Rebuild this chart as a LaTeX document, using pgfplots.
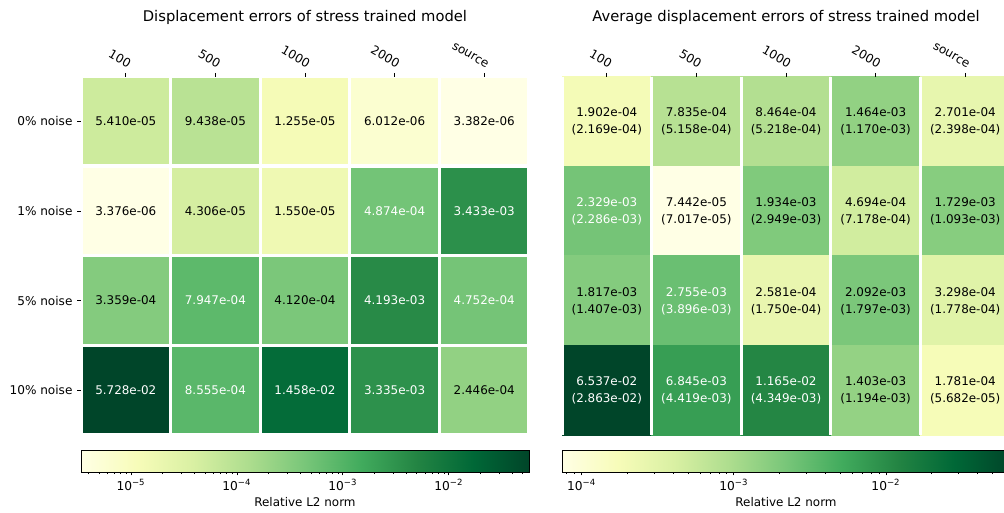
\documentclass[border=0pt]{standalone}
\usepackage{pgfplots}
\usepackage{pgfplotstable}
\pgfplotsset{compat=1.18}
\usepackage{fontspec}
\setmainfont{DejaVu Sans}

\pgfplotstableread{
x y v w
0 0 5.410e-05 0
1 0 9.438e-05 0
2 0 1.255e-05 0
3 0 6.012e-06 0
4 0 3.382e-06 0
0 1 3.376e-06 0
1 1 4.306e-05 0
2 1 1.550e-05 0
3 1 4.874e-04 1
4 1 3.433e-03 1
0 2 3.359e-04 0
1 2 7.947e-04 1
2 2 4.120e-04 0
3 2 4.193e-03 1
4 2 4.752e-04 1
0 3 5.728e-02 1
1 3 8.555e-04 1
2 3 1.458e-02 1
3 3 3.335e-03 1
4 3 2.446e-04 0
}\leftdata

\pgfplotstableread{
x y v p w
0 0 1.902e-04 2.169e-04 0
1 0 7.835e-04 5.158e-04 0
2 0 8.464e-04 5.218e-04 0
3 0 1.464e-03 1.170e-03 0
4 0 2.701e-04 2.398e-04 0
0 1 2.329e-03 2.286e-03 1
1 1 7.442e-05 7.017e-05 0
2 1 1.934e-03 2.949e-03 0
3 1 4.694e-04 7.178e-04 0
4 1 1.729e-03 1.093e-03 0
0 2 1.817e-03 1.407e-03 0
1 2 2.755e-03 3.896e-03 1
2 2 2.581e-04 1.750e-04 0
3 2 2.092e-03 1.797e-03 0
4 2 3.298e-04 1.778e-04 0
0 3 6.537e-02 2.863e-02 1
1 3 6.845e-03 4.419e-03 1
2 3 1.165e-02 4.349e-03 1
3 3 1.403e-03 1.194e-03 0
4 3 1.781e-04 5.682e-05 0
}\rightdata

\pgfplotsset{
  colormap={ylgn}{rgb255=(255,255,229) rgb255=(247,252,185) rgb255=(217,240,163) rgb255=(173,221,142) rgb255=(120,198,121) rgb255=(65,171,93) rgb255=(35,132,67) rgb255=(0,104,55) rgb255=(0,69,41)},
  myheat/.style={
    scale only axis, width=322.56pt, height=258.12pt, anchor=south west,
    xmin=-0.5, xmax=4.5, ymin=-0.5, ymax=3.5, y dir=reverse,
    xtick={0,1,2,3,4}, xticklabels={100,500,1000,2000,source},
    xtick pos=right, xticklabel pos=right,
    xticklabel style={rotate=-30, anchor=south east, xshift=3pt, font=\fontsize{8.7}{10}\selectfont},
    yticklabel style={font=\fontsize{8.7}{10}\selectfont},
    tick align=outside, major tick length=2.6pt,
    every tick/.style={black, line width=0.6pt},
    axis line style={draw=none},
    minor xtick={-0.5,0.5,1.5,2.5,3.5,4.5}, minor ytick={-0.5,0.5,1.5,2.5,3.5},
    minor tick length=0pt, xminorgrids, yminorgrids,
    minor grid style={white, line width=2.4pt},
    axis on top,
    colormap name=ylgn,
    title style={at={(0.5,1)}, anchor=center, yshift=36.5pt, font=\fontsize{10.6}{12}\selectfont},
  },
  mycbar/.style={
    scale only axis, width=322.56pt, height=15.84pt, anchor=south west,
    ymin=0, ymax=1, ytick=\empty,
    xtick pos=left, tick align=outside,
    major tick length=2.5pt, minor tick length=1.5pt,
    every tick/.style={black, line width=0.5pt},
    axis line style={black, line width=0.6pt},
    axis on top,
    colormap name=ylgn,
    xticklabel style={font=\fontsize{8.8}{9}\selectfont, yshift=1pt},
    xlabel={Relative L2 norm},
    xlabel style={font=\fontsize{8.6}{9}\selectfont, yshift=2pt},
  },
  mylbl/.style={
    only marks, mark=none, point meta=explicit symbolic,
    nodes near coords align={center},
    every node near coord/.append style={text=#1, anchor=center,
      font=\fontsize{8.6}{10}\selectfont},
  },
}

\begin{document}
\begin{tikzpicture}
\path[use as bounding box] (0pt,0pt) rectangle (722.88pt,369.36pt);

% left heatmap
\begin{axis}[myheat, at={(58.32pt,56.16pt)},
  title={Displacement errors of stress trained model},
  ytick={0,1,2,3}, yticklabels={0\% noise,1\% noise,5\% noise,10\% noise},
  ytick pos=left,
  point meta min=-5.4716, point meta max=-1.2420]
\addplot[matrix plot*, mesh/cols=5, point meta={ln(\thisrow{v})/ln(10)}] table {\leftdata};
\addplot[mylbl=black, restrict expr to domain={\thisrow{w}}{0:0.5},
  nodes near coords={\pgfplotspointmeta}] table[x=x, y=y, meta=v] {\leftdata};
\addplot[mylbl=white, restrict expr to domain={\thisrow{w}}{0.5:1},
  nodes near coords={\pgfplotspointmeta}] table[x=x, y=y, meta=v] {\leftdata};
\end{axis}

% right heatmap
\begin{axis}[myheat, at={(404.64pt,56.16pt)},
  title={Average displacement errors of stress trained model},
  ytick=\empty,
  point meta min=-4.12831, point meta max=-1.18462]
\addplot[matrix plot*, mesh/cols=5, point meta={ln(\thisrow{v})/ln(10)}] table {\rightdata};
\addplot[mylbl=black, restrict expr to domain={\thisrow{w}}{0:0.5},
  every node near coord/.append style={yshift=6.3pt},
  nodes near coords={\pgfplotspointmeta}] table[x=x, y=y, meta=v] {\rightdata};
\addplot[mylbl=white, restrict expr to domain={\thisrow{w}}{0.5:1},
  every node near coord/.append style={yshift=6.3pt},
  nodes near coords={\pgfplotspointmeta}] table[x=x, y=y, meta=v] {\rightdata};
\addplot[mylbl=black, restrict expr to domain={\thisrow{w}}{0:0.5},
  every node near coord/.append style={yshift=-6.3pt},
  nodes near coords={(\pgfplotspointmeta)}] table[x=x, y=y, meta=p] {\rightdata};
\addplot[mylbl=white, restrict expr to domain={\thisrow{w}}{0.5:1},
  every node near coord/.append style={yshift=-6.3pt},
  nodes near coords={(\pgfplotspointmeta)}] table[x=x, y=y, meta=p] {\rightdata};
\end{axis}

% left colorbar
\begin{axis}[xmode=log, mycbar, at={(58.32pt,29.52pt)},
  xmin=3.376e-6, xmax=5.728e-2,
  point meta min=-5.4716, point meta max=-1.2420,
  xtick={1e-5,1e-4,1e-3,1e-2},
  xticklabels={10\textsuperscript{−5},10\textsuperscript{−4},10\textsuperscript{−3},10\textsuperscript{−2}},
  minor xtick={4e-6,5e-6,6e-6,7e-6,8e-6,9e-6,2e-5,3e-5,4e-5,5e-5,6e-5,7e-5,8e-5,9e-5,2e-4,3e-4,4e-4,5e-4,6e-4,7e-4,8e-4,9e-4,2e-3,3e-3,4e-3,5e-3,6e-3,7e-3,8e-3,9e-3,2e-2,3e-2,4e-2,5e-2}]
\addplot[surf, shader=interp, mesh/cols=2, point meta=explicit] coordinates {
  (3.376e-6,0) [-5.4716] (5.728e-2,0) [-1.2420]
  (3.376e-6,1) [-5.4716] (5.728e-2,1) [-1.2420]
};
\end{axis}

% right colorbar
\begin{axis}[xmode=log, mycbar, at={(404.64pt,29.52pt)},
  xmin=7.442e-5, xmax=6.537e-2,
  point meta min=-4.12831, point meta max=-1.18462,
  xtick={1e-4,1e-3,1e-2},
  xticklabels={10\textsuperscript{−4},10\textsuperscript{−3},10\textsuperscript{−2}},
  minor xtick={8e-5,9e-5,2e-4,3e-4,4e-4,5e-4,6e-4,7e-4,8e-4,9e-4,2e-3,3e-3,4e-3,5e-3,6e-3,7e-3,8e-3,9e-3,2e-2,3e-2,4e-2,5e-2,6e-2}]
\addplot[surf, shader=interp, mesh/cols=2, point meta=explicit] coordinates {
  (7.442e-5,0) [-4.12831] (6.537e-2,0) [-1.18462]
  (7.442e-5,1) [-4.12831] (6.537e-2,1) [-1.18462]
};
\end{axis}
\end{tikzpicture}
\end{document}
